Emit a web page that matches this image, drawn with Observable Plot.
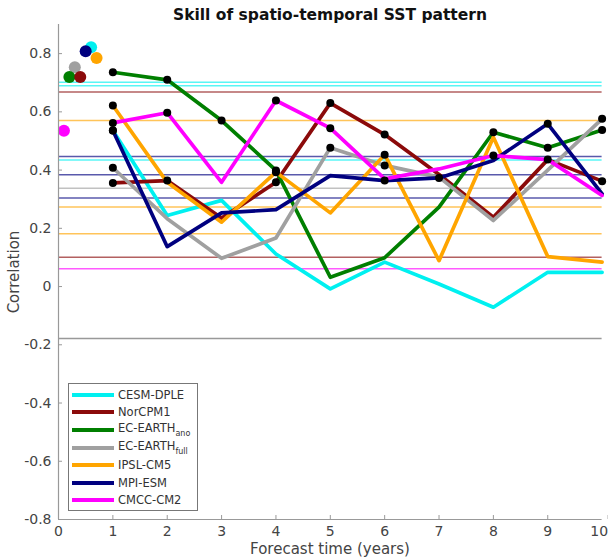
<!DOCTYPE html>
<html>
<head>
<meta charset="utf-8">
<script src="https://cdn.jsdelivr.net/npm/d3@7"></script>
<script src="https://cdn.jsdelivr.net/npm/@observablehq/plot@0.6"></script>
<style>
  body { margin: 0; background: #fff; font-family: "DejaVu Sans", sans-serif; }
  #wrap { position: relative; width: 608px; height: 560px; overflow: hidden; }
  #title { position: absolute; left: 58px; width: 544px; top: 5px; text-align: center;
           font-weight: bold; font-size: 15.5px; color: #111; line-height: 20px; }
  #ylab { position: absolute; left: 14px; top: 272px; transform: translate(-50%, -50%) rotate(-90deg);
          font-size: 15px; color: #444; white-space: nowrap; }
  #xlab { position: absolute; left: 58px; width: 544px; top: 539px; text-align: center;
          font-size: 15px; color: #444; line-height: 20px; }
  #legend { position: absolute; left: 68px; top: 383px; width: 130px; height: 128px;
            border: 1px solid #777; background: #fff; box-sizing: border-box; padding-top: 2px; }
  .row { display: flex; align-items: center; height: 17.6px; font-size: 11.5px; color: #333; }
  .sw { width: 42px; height: 4px; margin-left: 3px; margin-right: 4px; flex: none; }
  sub { font-size: 8px; vertical-align: -4px; }
</style>
</head>
<body>
<div id="wrap">
  <div id="chart"></div>
  <div id="title">Skill of spatio-temporal SST pattern</div>
  <div id="ylab">Correlation</div>
  <div id="xlab">Forecast time (years)</div>
  <div id="legend"></div>
</div>
<script>
// ---- data ----
const models = ["CESM-DPLE", "NorCPM1", "EC-EARTH_ano", "EC-EARTH_full", "IPSL-CM5", "MPI-ESM", "CMCC-CM2"];
const colors = ["#00f0f0", "#8b0a0a", "#007f00", "#a0a0a0", "#ffa500", "#00007f", "#ff00ff"];
const years = [1, 2, 3, 4, 5, 6, 7, 8, 9, 10];

const cesm   = [0.536, 0.244, 0.296, 0.112, -0.008, 0.084, 0.009, -0.071, 0.049, 0.049];
const norcpm = [0.356, 0.364, 0.235, 0.358, 0.630, 0.522, 0.385, 0.238, 0.436, 0.362];
const ecAno  = [0.736, 0.710, 0.570, 0.399, 0.032, 0.099, 0.273, 0.530, 0.477, 0.538];
const ecFull = [0.408, 0.233, 0.097, 0.167, 0.477, 0.416, 0.376, 0.227, 0.400, 0.576];
const ipsl   = [0.622, 0.358, 0.221, 0.393, 0.253, 0.453, 0.089, 0.513, 0.103, 0.084];
const mpi    = [0.536, 0.137, 0.253, 0.264, 0.381, 0.364, 0.373, 0.433, 0.559, 0.318];
const cmcc   = [0.562, 0.597, 0.358, 0.639, 0.544, 0.370, 0.404, 0.450, 0.436, 0.313];

// years at which the correlation is marked significant (black dots)
const cesmSig   = [1];
const norcpmSig = [1, 2, 4, 5, 6, 9, 10];
const ecAnoSig  = [1, 2, 3, 4, 8, 9, 10];
const ecFullSig = [1, 5, 6, 10];
const ipslSig   = [1, 4, 6];
const mpiSig    = [1, 6, 7, 9];
const cmccSig   = [1, 2, 4, 5, 8];

// persistence skill (coloured dots near year 0)
const persistX = [0.6, 0.4, 0.2, 0.3, 0.7, 0.5, 0.1];
const persistR = [0.822, 0.720, 0.720, 0.753, 0.785, 0.808, 0.535];
const persistOrder = [3, 0, 2, 1, 5, 4, 6];

// horizontal threshold lines
const threshValues = [0.702, 0.690, 0.435, 0.668, 0.101, 0.570, 0.273, 0.181, 0.447, 0.384, 0.304, 0.338, 0.061];
const threshModels = ["CESM-DPLE", "CESM-DPLE", "CESM-DPLE", "NorCPM1", "NorCPM1", "IPSL-CM5", "IPSL-CM5", "IPSL-CM5",
                      "MPI-ESM", "MPI-ESM", "MPI-ESM", "EC-EARTH_full", "CMCC-CM2"];
const grayLine = [-0.178];

const yTicks = [-0.8, -0.6, -0.4, -0.2, 0, 0.2, 0.4, 0.6, 0.8];
const xTicks = [0, 1, 2, 3, 4, 5, 6, 7, 8, 9];
const xTickLast = [10];

// ---- build tables ----
const series = [cesm, norcpm, ecAno, ecFull, ipsl, mpi, cmcc];
const sigs = [cesmSig, norcpmSig, ecAnoSig, ecFullSig, ipslSig, mpiSig, cmccSig];
const long = [];
const sigPts = [];
series.forEach((vals, i) => {
  vals.forEach((v, j) => {
    long.push({model: models[i], year: years[j], r: v});
    if (sigs[i].includes(years[j])) sigPts.push({model: models[i], year: years[j], r: v});
  });
});
const persist = persistOrder.map(i => ({model: models[i], x: persistX[i], r: persistR[i]}));
const thresh = threshValues.map((v, i) => ({model: threshModels[i], r: v}));

const fmt = d => d === 0 ? "0" : d.toFixed(1);

const chart = Plot.plot({
  width: 608, height: 560,
  marginLeft: 58, marginRight: 6.4, marginTop: 24, marginBottom: 41,
  style: {fontFamily: "DejaVu Sans", fontSize: "14px", color: "#444", background: "#fff"},
  x: {domain: [0, 10]},
  y: {domain: [-0.8, 0.9]},
  color: {domain: models, range: colors},
  marks: [
    Plot.ruleY(thresh, {y: "r", stroke: "model", strokeOpacity: 0.65, strokeWidth: 1.5}),
    Plot.ruleY(grayLine, {stroke: "#999", strokeWidth: 1.5}),
    Plot.line(long, {x: "year", y: "r", z: "model", stroke: "model", strokeWidth: 3.7}),
    Plot.dot(sigPts, {x: "year", y: "r", fill: "#000", r: 4}),
    Plot.dot(persist, {x: "x", y: "r", fill: "model", r: 6}),
    Plot.ruleX([0], {stroke: "#999", strokeWidth: 1.2}),
    Plot.ruleY([-0.8], {stroke: "#999", strokeWidth: 1.2}),
    Plot.axisX({ticks: xTicks, tickFormat: d => String(d), tickSize: -4, tickPadding: 11, stroke: "#999", label: null}),
    Plot.axisX({ticks: xTickLast, tickFormat: d => String(d), tickSize: -4, tickPadding: 11, stroke: "#999",
                textAnchor: "end", dx: 6, label: null}),
    Plot.axisY({ticks: yTicks, tickFormat: fmt, tickSize: -4, tickPadding: 11, stroke: "#999", label: null})
  ]
});
document.getElementById("chart").appendChild(chart);

// legend
const legend = document.getElementById("legend");
const labels = ["CESM-DPLE", "NorCPM1", "EC-EARTH<sub>ano</sub>", "EC-EARTH<sub>full</sub>", "IPSL-CM5", "MPI-ESM", "CMCC-CM2"];
models.forEach((m, i) => {
  const row = document.createElement("div");
  row.className = "row";
  row.innerHTML = `<span class="sw" style="background:${colors[i]}"></span><span>${labels[i]}</span>`;
  legend.appendChild(row);
});
</script>
</body>
</html>
